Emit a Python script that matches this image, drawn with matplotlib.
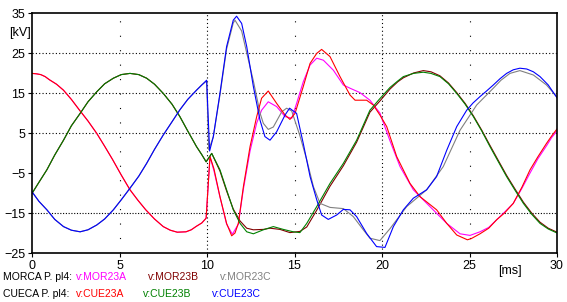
import numpy as np
import matplotlib.pyplot as plt

plt.rcParams['font.family'] = ['Liberation Sans', 'DejaVu Sans']

# ---------------- datos (t en ms, v en kV) ----------------

# MORCA P.pl4 - fase A (magenta)
t_mor_a = [0, 0.25, 0.5, 0.75, 1.0, 1.4, 1.8, 2.25, 2.7, 3.2, 3.7, 4.15, 4.6, 5.1, 5.6, 6.05,
           6.5, 7.0, 7.5, 7.9, 8.3, 8.8, 9.1, 9.4, 9.7, 9.95,
           10.17, 10.4, 10.74, 11.12, 11.45, 11.79, 12.08, 12.46, 12.84, 13.12, 13.5,
           13.98, 14.46, 14.85, 15.12, 15.5, 15.89, 16.27, 16.65, 17.22, 17.79, 18.17,
           18.74, 19.31, 19.88, 20.46, 21.03, 21.79, 22.74, 23.7, 24.46, 25.03, 25.6,
           26.1, 26.55, 27.0, 27.5, 28.0, 28.46, 28.9, 29.4, 29.7, 30]
v_mor_a = [19.9, 19.8, 19.6, 19.1, 18.3, 17.2, 15.7, 13.4, 10.8, 8.0, 4.9, 1.7, -1.6, -5.5, -9.2, -11.8,
           -14.2, -16.5, -18.4, -19.3, -19.8, -19.7, -19.2, -18.3, -17.5, -16.3,
           -0.9, -4.5, -11.0, -17.8, -20.3, -17.8, -9.0, 0.5, 7.5, 10.7, 12.8,
           11.6, 9.1, 8.7, 12.4, 17.8, 22.0, 23.7, 23.2, 20.7, 17.0, 16.2,
           15.1, 13.2, 10.0, 3.0, -3.4, -9.2, -13.4, -17.6, -20.2, -20.6, -19.7,
           -18.6, -16.7, -14.8, -12.6, -8.8, -5.0, -1.5, 1.8, 3.9, 5.5]

# MORCA P.pl4 - fase B (granate)
t_mor_b = [0, 0.4, 0.85, 1.3, 1.8, 2.25, 2.75, 3.2, 3.7, 4.15, 4.65, 5.1, 5.6, 6.1, 6.55,
           7.0, 7.5, 8.0, 8.45, 8.9, 9.4, 9.7, 9.95,
           10.27, 10.74, 11.12, 11.5, 11.89, 12.27, 12.65, 13.22, 13.6, 14.17, 14.74,
           15.31, 15.7, 16.27, 17.03, 17.79, 18.55, 19.31, 19.88, 20.46, 20.9, 21.22, 21.8,
           22.36, 22.8, 23.31, 23.8, 24.27, 24.75, 25.22, 25.7, 26.17, 26.65, 27.12, 27.6,
           28.08, 28.55, 29.03, 29.5, 30]
v_mor_b = [-10.1, -7.3, -4.2, -0.5, 3.2, 6.8, 9.9, 12.8, 15.3, 17.3, 18.7, 19.6, 19.9, 19.6, 18.7,
           17.2, 14.9, 12.2, 9.1, 5.5, 1.6, -0.4, -2.2,
           -0.1, -4.5, -9.5, -14.0, -17.0, -18.8, -19.2, -19.1, -18.8, -19.1, -19.9,
           -19.6, -18.5, -14.3, -8.3, -3.2, 2.7, 10.2, 13.0, 16.0, 17.8, 18.8, 20.0,
           20.6, 20.3, 19.3, 17.5, 15.1, 12.4, 9.3, 5.7, 1.9, -1.9, -5.6, -9.0,
           -12.3, -15.0, -17.3, -18.8, -19.8]

# MORCA P.pl4 - fase C (gris)
t_mor_c = [0, 0.4, 0.85, 1.3, 1.8, 2.25, 2.75, 3.2, 3.7, 4.15, 4.65, 5.1, 5.6, 6.1, 6.55,
           7.0, 7.5, 8.0, 8.45, 8.9, 9.4, 9.7, 9.98,
           10.1, 10.36, 10.74, 11.12, 11.5, 11.6, 11.98, 12.27, 12.65, 13.03, 13.22,
           13.5, 13.79, 14.27, 14.55, 14.84, 15.31, 15.7, 16.08, 16.46, 17.03, 17.79,
           18.36, 18.93, 19.31, 19.88, 20.46, 21.41, 22.55, 23.5, 24.46, 25.41, 26.36,
           26.8, 27.31, 27.88, 28.65, 29.4, 30]
v_mor_c = [-9.7, -12.1, -14.2, -16.6, -18.4, -19.3, -19.7, -19.2, -18.0, -16.5, -14.2, -11.7, -8.8, -5.8, -2.6,
           0.9, 4.5, 7.8, 10.8, 13.4, 15.7, 17.0, 18.0,
           0.8, 4.0, 14.5, 26.0, 32.5, 33.2, 30.5, 25.0, 18.0, 10.0, 7.4,
           5.9, 6.5, 10.3, 11.2, 10.5, 4.3, -1.7, -8.4, -12.6, -13.6, -13.9,
           -15.9, -19.2, -21.3, -21.9, -18.9, -13.4, -9.2, -3.4, 5.7, 12.0, 16.2,
           18.2, 19.9, 20.6, 19.5, 17.0, 14.0]

# CUECA P.pl4 - fase A (rojo)
t_cue_a = [0, 0.25, 0.5, 0.75, 1.0, 1.4, 1.8, 2.25, 2.7, 3.2, 3.7, 4.15, 4.6, 5.1, 5.6, 6.05,
           6.5, 7.0, 7.5, 7.9, 8.3, 8.8, 9.1, 9.4, 9.7, 9.95,
           10.17, 10.4, 10.74, 11.12, 11.41, 11.6, 11.79, 12.08, 12.46, 12.84, 13.12,
           13.5, 13.98, 14.46, 14.74, 15.03, 15.5, 15.89, 16.27, 16.55, 17.03, 17.6,
           18.17, 18.46, 19.12, 19.5, 19.88, 20.27, 20.84, 21.6, 22.17, 23.12, 23.7,
           24.27, 24.88, 25.1, 25.6, 26.1, 26.55, 27.0, 27.5, 28.0, 28.46, 28.9, 29.4, 29.7, 30]
v_cue_a = [19.9, 19.8, 19.6, 19.1, 18.3, 17.2, 15.7, 13.4, 10.8, 8.0, 4.9, 1.7, -1.6, -5.5, -9.2, -11.8,
           -14.2, -16.5, -18.4, -19.3, -19.8, -19.7, -19.2, -18.3, -17.5, -16.3,
           -0.9, -4.0, -10.9, -17.6, -20.7, -20.0, -17.6, -8.4, 1.6, 9.1, 13.7,
           15.5, 12.4, 9.5, 8.4, 9.9, 16.6, 22.4, 24.9, 25.9, 24.1, 19.1,
           14.5, 13.2, 13.2, 12.0, 9.5, 6.6, -0.9, -7.6, -10.9, -14.2, -17.6,
           -20.5, -21.7, -21.4, -20.2, -18.8, -16.7, -15.0, -12.6, -8.5, -4.2, -1.0, 2.4, 4.3, 6.0]

# CUECA P.pl4 - fase B (verde)
t_cue_b = [0, 0.4, 0.85, 1.3, 1.8, 2.25, 2.75, 3.2, 3.7, 4.15, 4.65, 5.1, 5.6, 6.1, 6.55,
           7.0, 7.5, 8.0, 8.45, 8.9, 9.4, 9.7, 9.95,
           10.27, 10.74, 11.12, 11.5, 11.89, 12.27, 12.65, 13.22, 13.79, 14.36, 14.93,
           15.31, 15.7, 16.27, 17.03, 17.79, 18.55, 19.31, 19.88, 20.46, 20.9, 21.22, 21.8,
           22.36, 22.8, 23.31, 23.8, 24.27, 24.75, 25.22, 25.7, 26.17, 26.65, 27.12, 27.6,
           28.08, 28.55, 29.03, 29.5, 30]
v_cue_b = [-10.1, -7.3, -4.2, -0.5, 3.2, 6.8, 9.9, 12.8, 15.3, 17.3, 18.7, 19.6, 19.9, 19.6, 18.7,
           17.2, 14.9, 12.2, 9.1, 5.5, 1.6, -0.4, -2.2,
           -0.1, -4.2, -9.2, -14.2, -17.6, -19.7, -20.2, -19.2, -18.4, -19.1, -19.7,
           -19.9, -17.6, -13.4, -7.6, -2.6, 3.2, 10.7, 13.6, 16.4, 18.0, 19.1, 19.9,
           20.2, 19.9, 19.1, 17.3, 14.9, 12.2, 9.1, 5.5, 1.6, -2.2, -5.9, -9.3,
           -12.6, -15.3, -17.6, -19.0, -20.0]

# CUECA P.pl4 - fase C (azul)
t_cue_c = [0, 0.4, 0.85, 1.3, 1.8, 2.25, 2.75, 3.2, 3.7, 4.15, 4.65, 5.1, 5.6, 6.1, 6.55,
           7.0, 7.5, 8.0, 8.45, 8.9, 9.4, 9.7, 9.98,
           10.15, 10.36, 10.74, 11.12, 11.5, 11.69, 11.98, 12.27, 12.65, 13.03, 13.31,
           13.6, 13.98, 14.46, 14.72, 15.12, 15.5, 15.89, 16.27, 16.55, 16.93, 17.41,
           17.79, 18.17, 18.55, 19.12, 19.69, 20.17, 20.65, 21.22, 21.79, 22.55, 23.12,
           23.7, 24.27, 24.84, 25.2, 25.6, 26.0, 26.36, 26.75, 27.12, 27.5, 27.88, 28.27,
           28.65, 29.03, 29.5, 30]
v_cue_c = [-9.7, -12.1, -14.2, -16.6, -18.4, -19.3, -19.7, -19.2, -18.0, -16.5, -14.2, -11.7, -8.8, -5.8, -2.6,
           0.9, 4.5, 7.8, 10.8, 13.4, 15.7, 17.0, 18.2,
           0.5, 4.1, 14.9, 26.6, 33.2, 34.2, 32.4, 26.6, 16.6, 8.2, 4.1,
           3.2, 5.3, 9.5, 11.2, 9.9, 2.4, -5.9, -11.7, -15.5, -16.6, -15.5,
           -14.1, -14.2, -15.9, -20.1, -23.4, -23.6, -18.4, -14.2, -11.3, -9.2, -5.9,
           0.7, 6.6, 10.7, 12.5, 14.1, 15.6, 17.0, 18.6, 19.9, 20.8, 21.2, 21.0,
           20.3, 19.1, 17.0, 13.8]

y_ticks = [35, 25, 15, 5, -5, -15, -25]
x_ticks = [0, 5, 10, 15, 20, 25, 30]

# ---------------- figura ----------------
fig = plt.figure(figsize=(5.67, 3.02), dpi=100)
ax = fig.add_axes([32/567, 1-253/302, 525/567, 240/302])

lw = 0.8
# rejilla punteada, como en el original
for yy in [25, 15, 5]:
    ax.axhline(yy, color='k', lw=0.8, ls=(0, (1, 2)), zorder=0)
ax.axhline(-15, color='k', lw=0.8, ls=(0, (1, 1.5)), zorder=0)
for xx in [10, 20]:
    ax.axvline(xx, color='k', lw=0.8, ls=(0, (1, 2.5)), zorder=0)
for xx in [5, 15, 25]:
    ax.axvline(xx, color='k', lw=0.8, ls=(0, (1, 12)), zorder=0)

ax.plot(t_mor_a, v_mor_a, color='#ff00ff', lw=lw)
ax.plot(t_mor_b, v_mor_b, color='#800000', lw=lw)
ax.plot(t_mor_c, v_mor_c, color='#808080', lw=lw)
ax.plot(t_cue_a, v_cue_a, color='#ff0000', lw=lw)
ax.plot(t_cue_b, v_cue_b, color='#008000', lw=lw)
ax.plot(t_cue_c, v_cue_c, color='#0000ff', lw=lw)

ax.set_xlim(0, 30)
ax.set_ylim(-25, 35)
ax.set_xticks(x_ticks)
ax.set_yticks(y_ticks)
ax.tick_params(direction='out', length=3, width=0.8, labelsize=9, pad=2)
for s in ax.spines.values():
    s.set_linewidth(1.2)

ax.text(-0.044, 30, '[kV]', fontsize=9, ha='left', va='center',
        transform=ax.get_yaxis_transform(), clip_on=False)
ax.text(27.3, -29.4, '[ms]', fontsize=9, ha='center', va='center', clip_on=False)

# leyenda como textos sueltos
fs = 7.5
fig.text(3/567, 1-277/302, 'MORCA P. pl4:', fontsize=fs, va='center', color='k')
fig.text(76/567, 1-277/302, 'v:MOR23A', fontsize=fs, va='center', color='#ff00ff')
fig.text(148/567, 1-277/302, 'v:MOR23B', fontsize=fs, va='center', color='#800000')
fig.text(220/567, 1-277/302, 'v:MOR23C', fontsize=fs, va='center', color='#808080')
fig.text(3/567, 1-294/302, 'CUECA P. pl4:', fontsize=fs, va='center', color='k')
fig.text(76/567, 1-294/302, 'v:CUE23A', fontsize=fs, va='center', color='#ff0000')
fig.text(143/567, 1-294/302, 'v:CUE23B', fontsize=fs, va='center', color='#008000')
fig.text(212/567, 1-294/302, 'v:CUE23C', fontsize=fs, va='center', color='#0000ff')

fig.savefig('out.png', dpi=100)
